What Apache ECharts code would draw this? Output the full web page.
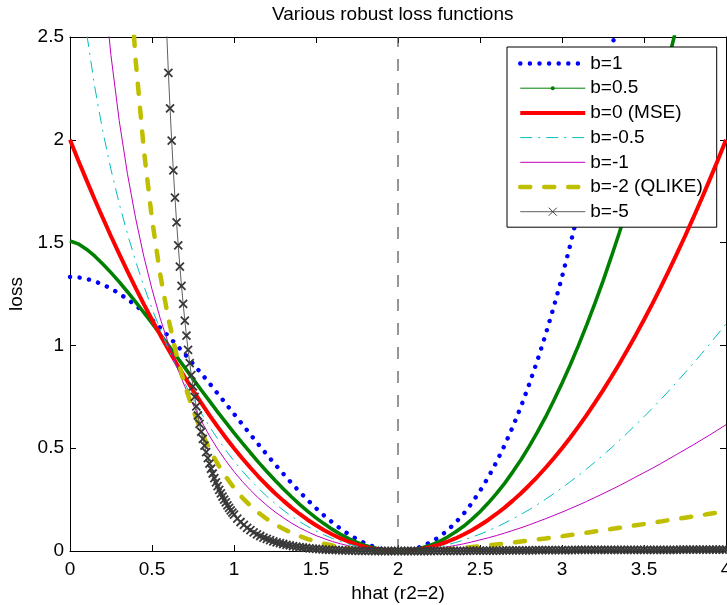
<!DOCTYPE html>
<html><head><meta charset="utf-8">
<script src="https://cdn.jsdelivr.net/npm/echarts@6/dist/echarts.min.js"></script>
<style>html,body{margin:0;padding:0;background:#fff}#c{width:727px;height:605px}</style>
</head><body><div id="c"></div>
<script>
// hhat grid (r2 = 2)
const hhat = [0,0.05,0.1,0.15,0.2,0.25,0.3,0.35,0.4,0.45,0.5,0.55,0.6,0.65,0.7,0.75,0.8,0.85,0.9,0.95,
1,1.05,1.1,1.15,1.2,1.25,1.3,1.35,1.4,1.45,1.5,1.55,1.6,1.65,1.7,1.75,1.8,1.85,1.9,1.95,
2,2.05,2.1,2.15,2.2,2.25,2.3,2.35,2.4,2.45,2.5,2.55,2.6,2.65,2.7,2.75,2.8,2.85,2.9,2.95,
3,3.05,3.1,3.15,3.2,3.25,3.3,3.35,3.4,3.45,3.5,3.55,3.6,3.65,3.7,3.75,3.8,3.85,3.9,3.95,4];

const lossB1 = [1.333,1.331,1.324,1.312,1.296,1.276,1.252,1.225,1.195,1.161,1.125,1.086,1.045,1.002,0.958,0.911,0.864,0.816,0.766,0.717,
0.667,0.617,0.567,0.518,0.469,0.422,0.376,0.331,0.288,0.247,0.208,0.172,0.139,0.108,0.081,0.057,0.037,0.021,0.010,0.002,
0,0.003,0.010,0.024,0.043,0.068,0.099,0.137,0.181,0.233,0.292,0.358,0.432,0.514,0.604,0.703,0.811,0.927,1.053,1.188,
1.333,1.488,1.653,1.829,2.016,2.214,2.422,2.642];

const lossB05 = [1.508,1.494,1.468,1.435,1.396,1.354,1.309,1.261,1.212,1.160,1.108,1.054,1.000,0.946,0.892,0.837,0.783,0.730,0.677,0.626,
0.575,0.526,0.478,0.431,0.387,0.344,0.303,0.264,0.227,0.193,0.161,0.132,0.105,0.081,0.060,0.042,0.027,0.016,0.007,0.002,
0,0.002,0.007,0.016,0.029,0.046,0.067,0.092,0.120,0.154,0.191,0.233,0.279,0.329,0.385,0.444,0.509,0.578,0.652,0.732,
0.816,0.905,0.999,1.099,1.203,1.313,1.429,1.549,1.676,1.808,1.945,2.088,2.237,2.392,2.552];

const lossB0 = [2,1.901,1.805,1.711,1.62,1.531,1.445,1.361,1.28,1.201,1.125,1.051,0.98,0.911,0.845,0.781,0.72,0.661,0.605,0.551,
0.5,0.451,0.405,0.361,0.32,0.281,0.245,0.211,0.18,0.151,0.125,0.101,0.08,0.061,0.045,0.031,0.02,0.011,0.005,0.001,
0,0.001,0.005,0.011,0.02,0.031,0.045,0.061,0.08,0.101,0.125,0.151,0.18,0.211,0.245,0.281,0.32,0.361,0.405,0.451,
0.5,0.551,0.605,0.661,0.72,0.781,0.845,0.911,0.98,1.051,1.125,1.201,1.28,1.361,1.445,1.531,1.62,1.711,1.805,1.901,2];

const lossBm05 = [3.771,2.884,2.527,2.261,2.042,1.855,1.690,1.543,1.410,1.289,1.179,1.077,0.983,0.896,0.815,0.740,0.671,0.606,0.546,0.490,
0.438,0.390,0.345,0.304,0.266,0.231,0.199,0.169,0.143,0.119,0.097,0.078,0.061,0.046,0.034,0.023,0.015,0.008,0.004,0.001,
0,0.001,0.003,0.008,0.014,0.021,0.030,0.041,0.053,0.067,0.082,0.098,0.116,0.136,0.156,0.178,0.201,0.226,0.252,0.279,
0.307,0.337,0.367,0.399,0.432,0.466,0.501,0.538,0.575,0.614,0.653,0.694,0.735,0.778,0.822,0.867,0.912,0.959,1.006,1.055,1.105];

const lossBm1 = [null,null,null,3.331,2.805,2.409,2.094,1.836,1.619,1.433,1.273,1.132,1.008,0.898,0.800,0.712,0.633,0.561,0.497,0.439,
0.386,0.339,0.296,0.257,0.222,0.190,0.162,0.136,0.113,0.093,0.075,0.060,0.046,0.035,0.025,0.017,0.011,0.006,0.003,0.001,
0,0.001,0.002,0.005,0.009,0.014,0.020,0.027,0.035,0.044,0.054,0.064,0.075,0.087,0.100,0.113,0.127,0.142,0.157,0.173,
0.189,0.206,0.223,0.241,0.260,0.279,0.298,0.318,0.339,0.360,0.381,0.402,0.424,0.447,0.470,0.493,0.516,0.540,0.564,0.589,0.614];

const lossBm2 = [null,null,null,null,null,null,null,2.971,2.391,1.953,1.614,1.345,1.129,0.953,0.807,0.686,0.584,0.497,0.424,0.361,
0.307,0.260,0.220,0.186,0.156,0.130,0.108,0.088,0.072,0.058,0.046,0.035,0.027,0.020,0.014,0.009,0.006,0.003,0.001,0.000,
0,0.000,0.001,0.003,0.004,0.007,0.009,0.012,0.016,0.019,0.023,0.027,0.032,0.036,0.041,0.046,0.051,0.056,0.061,0.067,
0.072,0.078,0.083,0.089,0.095,0.101,0.107,0.113,0.119,0.125,0.131,0.137,0.143,0.150,0.156,0.162,0.168,0.174,0.181,0.187,0.193];

// b=-5 is plotted on a denser grid (every point marked with a cross)
const hhatB5 = [0.59,0.6,0.61,0.62,0.63,0.64,0.65,0.66,0.67,0.68,0.69,0.7,0.71,0.72,0.73,0.74,0.75,0.76,0.77,0.78,0.79,0.8,
0.81,0.82,0.83,0.84,0.85,0.86,0.87,0.88,0.89,0.9,0.91,0.92,0.93,0.94,0.95,0.96,0.97,0.98,0.99,1,
1.02,1.04,1.06,1.08,1.1,1.12,1.14,1.16,1.18,1.2,1.22,1.24,1.26,1.28,1.3,1.32,1.34,1.36,1.38,1.4,1.42,1.44,1.46,1.48,1.5,
1.52,1.54,1.56,1.58,1.6,1.62,1.64,1.66,1.68,1.7,1.72,1.74,1.76,1.78,1.8,1.82,1.84,
1.86,1.88,1.9,1.92,1.94,1.96,1.98,2,2.02,2.04,2.06,2.08,2.1,2.12,2.14,2.16,2.18,2.2,
2.22,2.24,2.26,2.28,2.3,2.32,2.34,2.36,2.38,2.4,2.42,
2.44,2.46,2.48,2.5,2.52,2.54,2.56,2.58,2.6,2.62,
2.64,2.66,2.68,2.7,2.72,2.74,2.76,2.78,2.8,2.82,
2.84,2.86,2.88,2.9,2.92,2.94,2.96,2.98,3,3.02,3.04,3.06,
3.08,3.1,3.12,3.14,3.16,3.18,3.2,3.22,3.24,3.26,3.28,3.3,3.32,3.34,
3.36,3.38,3.4,3.42,3.44,3.46,3.48,3.5,3.52,3.54,3.56,3.58,3.6,3.62,3.64,3.66,3.68,3.7,
3.72,3.74,3.76,3.78,3.8,3.82,3.84,3.86,3.88,3.9,3.92,3.94,3.96,3.98,4];

const lossBm5 = [2.514,2.325,2.153,1.996,1.851,1.719,1.598,1.486,1.383,1.289,1.202,1.121,1.047,0.978,0.914,0.855,0.801,0.750,0.703,0.659,0.618,0.580,
0.545,0.512,0.481,0.452,0.425,0.400,0.377,0.355,0.334,0.315,0.297,0.280,0.264,0.250,0.236,0.222,0.210,0.198,0.187,0.177,
0.158,0.141,0.127,0.113,0.101,0.091,0.081,0.073,0.065,0.059,0.053,0.047,0.042,0.038,0.034,0.030,0.027,0.024,0.021,0.019,0.017,0.015,0.013,0.012,0.010,
0.009,0.008,0.007,0.006,0.005,0.005,0.004,0.003,0.003,0.002,0.002,0.002,0.001,0.001,0.001,0.001,0.001,
0,0,0,0,0,0,0,0,0,0,0,0,0,0,0,0,0,0,
0.001,0.001,0.001,0.001,0.001,0.001,0.001,0.001,0.001,0.001,0.001,
0.002,0.002,0.002,0.002,0.002,0.002,0.002,0.002,0.002,0.002,
0.003,0.003,0.003,0.003,0.003,0.003,0.003,0.003,0.003,0.003,
0.004,0.004,0.004,0.004,0.004,0.004,0.004,0.004,0.004,0.004,0.004,0.004,
0.005,0.005,0.005,0.005,0.005,0.005,0.005,0.005,0.005,0.005,0.005,0.005,0.005,0.005,
0.006,0.006,0.006,0.006,0.006,0.006,0.006,0.006,0.006,0.006,0.006,0.006,0.006,0.006,0.006,0.006,0.006,0.006,
0.007,0.007,0.007,0.007,0.007,0.007,0.007,0.007,0.007,0.007,0.007,0.007,0.007,0.007,0.007];

const seriesNames = ['b=1','b=0.5','b=0 (MSE)','b=-0.5','b=-1','b=-2 (QLIKE)','b=-5'];
const trueR2 = [[2,0],[2,2.5]];
const xRange = [0,4], xStep = 0.5;
const yRange = [0,2.5], yStep = 0.5;

function pairs(xs, ys){ const out=[]; for(let i=0;i<xs.length;i++){ if(ys[i]!=null) out.push([xs[i], ys[i]]); } return out; }

const FONT = "'Liberation Sans', Arial, Helvetica, sans-serif";
const FS = 19;
const DOT_SYM = 'path://M0,0M10,10M2.5,5A2.5,2.5,0,1,1,7.5,5A2.5,2.5,0,1,1,2.5,5Z';
const CROSS_SYM = 'path://M0,0L10,10M10,0L0,10';

const styles = [
  {color:'#0000ff', width:4.4, type:[0.1,9.5], cap:'round'},
  {color:'#008000', width:3.6, type:'solid', cap:'butt'},
  {color:'#ff0000', width:4, type:'solid', cap:'butt'},
  {color:'#00bfbf', width:1, type:[12,6,2,6], cap:'butt'},
  {color:'#bf00bf', width:1, type:'solid', cap:'butt'},
  {color:'#bfbf00', width:4.5, type:[10,14], cap:'round'},
  {color:'#606060', width:1, type:'solid', cap:'butt'}
];
const seriesData = [pairs(hhat,lossB1), pairs(hhat,lossB05), pairs(hhat,lossB0), pairs(hhat,lossBm05),
  pairs(hhat,lossBm1), pairs(hhat,lossBm2), pairs(hhatB5,lossBm5)];

const series = [{
  type:'line', name:'r2', data: trueR2, symbol:'none', silent:true, z:1,
  lineStyle:{color:'#505050', width:1.2, type:[12,12]}
}];
seriesNames.forEach((n,i)=>{
  const s = {
    type:'line', name:n, data:seriesData[i], z:2+i, silent:true,
    symbol:'none', showSymbol:false,
    lineStyle:{color:styles[i].color, width:styles[i].width, type:styles[i].type, cap:styles[i].cap},
    itemStyle:{color:styles[i].color}
  };
  if (i===1){ s.symbol = DOT_SYM; s.showSymbol=false; }
  if (i===6){ s.symbol = CROSS_SYM; s.showSymbol=true; s.symbolSize=8;
    s.itemStyle = {color:'transparent', borderColor:'#383838', borderWidth:1.8}; }
  series.push(s);
});

const legendData = seriesNames.map((n,i)=>{
  const d = {name:n, lineStyle:{color:styles[i].color, width:styles[i].width, type:styles[i].type, cap:styles[i].cap, opacity:1}};
  if (i===1){ d.lineStyle.width=1; d.itemStyle={color:'#008000', opacity:1, borderWidth:0}; }
  else if (i===6){ d.lineStyle.width=1; d.lineStyle.color='#606060'; d.itemStyle={color:'transparent', borderColor:'#404040', borderWidth:1, opacity:1}; }
  else { d.itemStyle={opacity:0}; }
  return d;
});

const axisCommon = {
  axisLine:{show:true, onZero:false, lineStyle:{color:'#000', width:1}},
  axisTick:{show:true, inside:true, length:6, lineStyle:{color:'#000', width:1}},
  splitLine:{show:false}
};

const chart = echarts.init(document.getElementById('c'), null, {renderer:'canvas'});
chart.setOption({
  animation:false,
  backgroundColor:'#fff',
  textStyle:{fontFamily:FONT},
  title:{text:'Various robust loss functions', left:272, top:5, padding:0,
    textStyle:{fontFamily:FONT, fontSize:FS, fontWeight:'normal', color:'#000'}},
  grid:{left:70, right:1, top:37, bottom:54, containLabel:false, outerBoundsMode:'none'},
  legend:{
    data:legendData, orient:'vertical', left:507, top:47, padding:[7,14,6,11],
    itemWidth:65, itemHeight:10, itemGap:5.7, selectedMode:false,
    borderColor:'#000', borderWidth:1, backgroundColor:'#fff', borderRadius:0,
    textStyle:{fontFamily:FONT, fontSize:FS, color:'#000', lineHeight:19}
  },
  xAxis:[
    Object.assign({type:'value', min:xRange[0], max:xRange[1], interval:xStep, position:'bottom',
      name:'hhat (r2=2)', nameLocation:'middle', nameGap:29,
      nameTextStyle:{fontFamily:FONT, fontSize:FS, color:'#000'},
      axisLabel:{fontFamily:FONT, fontSize:FS, color:'#000', margin:9}}, axisCommon),
    Object.assign({type:'value', min:xRange[0], max:xRange[1], interval:xStep, position:'top',
      axisLabel:{show:false}}, axisCommon)
  ],
  yAxis:[
    Object.assign({type:'value', min:yRange[0], max:yRange[1], interval:yStep, position:'left',
      name:'loss', nameLocation:'middle', nameGap:40, nameRotate:90,
      nameTextStyle:{fontFamily:FONT, fontSize:FS, color:'#000'},
      axisLabel:{fontFamily:FONT, fontSize:FS, color:'#000', margin:6}}, axisCommon),
    Object.assign({type:'value', min:yRange[0], max:yRange[1], interval:yStep, position:'right',
      axisLabel:{show:false}}, axisCommon)
  ],
  series: series
});
</script></body></html>
